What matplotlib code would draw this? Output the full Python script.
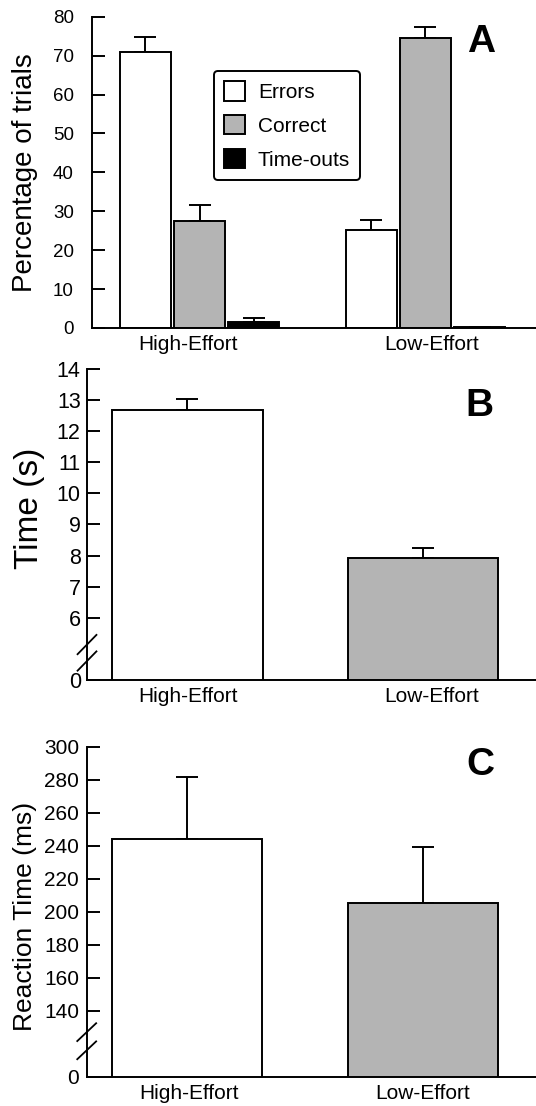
import numpy as np
import matplotlib
matplotlib.use("Agg")
import matplotlib.pyplot as plt
from matplotlib.patches import Patch

plt.rcParams['font.family'] = ['Liberation Sans', 'DejaVu Sans']

# ---- data ----
groups = ['High-Effort', 'Low-Effort']
outcomes = ['Errors', 'Correct', 'Time-outs']
pct_mean = {'Errors': [70.8, 25.2], 'Correct': [27.6, 74.6], 'Time-outs': [1.5, 0.2]}
pct_err = {'Errors': [3.9, 2.5], 'Correct': [4.1, 2.7], 'Time-outs': [1.0, 0.1]}
time_mean = [12.67, 7.91]
time_err = [0.36, 0.34]
rt_mean = [243.9, 205.4]
rt_err = [37.6, 34.1]

white = 'white'
grey = '#b4b4b4'
colors = {'Errors': white, 'Correct': grey, 'Time-outs': 'black'}

W, H = 536, 1106
LW = 1.4


def axes_px(left, top, bottom):
    # place an axes from pixel measures, right edge at figure edge
    return [left / W, 1 - bottom / H, (W - left) / W, (bottom - top) / H]


def style(ax, lsize, pad):
    for s in ['top', 'right']:
        ax.spines[s].set_visible(False)
    for s in ['left', 'bottom']:
        ax.spines[s].set_linewidth(LW)
    ax.tick_params(axis='y', direction='in', length=9.4, width=LW, labelsize=lsize, pad=pad)
    ax.tick_params(axis='x', length=0, labelsize=15, pad=5)


def axis_break(ax, ys, dx=0.02, dy=0.03):
    for y in ys:
        ax.plot([-dx, dx], [y - dy, y + dy], transform=ax.transAxes,
                color='black', lw=1.3, clip_on=False)


fig = plt.figure(figsize=(W / 100, H / 100), dpi=100)

# ---- panel A ----
axA = fig.add_axes(axes_px(92, 16.7, 328))
x = np.arange(len(groups))
bw = 0.2257
step = 0.241
for i, k in enumerate(outcomes):
    pos = x + (i - 1) * step
    axA.bar(pos, pct_mean[k], width=bw, color=colors[k], edgecolor='black', linewidth=LW, zorder=2)
    axA.errorbar(pos, pct_mean[k], yerr=[np.zeros(2), pct_err[k]], fmt='none',
                 ecolor='black', elinewidth=LW, capsize=7.9, capthick=LW, zorder=1)
axA.set_xlim(-0.4757, 1.489)
axA.set_ylim(0, 80)
axA.set_yticks(np.arange(0, 81, 10))
axA.set_xticks([-0.053, 1.027])
axA.set_xticklabels(groups)
style(axA, 13.5, 13)
axA.set_ylabel('Percentage of trials', fontsize=20)
axA.yaxis.set_label_coords(-0.121, 0.5)
axA.text(0.876, 0.919, 'A', transform=axA.transAxes, fontsize=28, fontweight='bold',
         ha='center', va='center')
handles = [Patch(facecolor=colors[k], edgecolor='black', linewidth=LW) for k in outcomes]
leg = axA.legend(handles, outcomes, loc='upper left', bbox_to_anchor=(0.2748, 0.8256),
                 fontsize=15, frameon=True, fancybox=True, handlelength=1.0,
                 handleheight=1.05, handletextpad=0.6, labelspacing=0.62,
                 borderpad=0.5, borderaxespad=0)
leg.get_frame().set_edgecolor('black')
leg.get_frame().set_linewidth(LW)
leg.get_frame().set_alpha(1)

# ---- panel B ----
axB = fig.add_axes(axes_px(87, 369, 680))
xb = np.arange(len(groups))
axB.bar(xb, time_mean, width=0.639, color=[white, grey], edgecolor='black', linewidth=LW, zorder=2)
axB.errorbar(xb, time_mean, yerr=[np.zeros(2), time_err], fmt='none', ecolor='black',
             elinewidth=LW, capsize=7.9, capthick=LW, zorder=1)
axB.set_xlim(-0.4255, 1.479)
axB.set_ylim(4, 14)
axB.set_yticks([4] + list(range(6, 15)))
axB.set_yticklabels(['0'] + [str(v) for v in range(6, 15)])
axB.set_xticks([0.002, 1.037])
axB.set_xticklabels(groups)
style(axB, 15.5, 4.5)
axB.set_ylabel('Time (s)', fontsize=24)
axB.yaxis.set_label_coords(-0.0935, 0.553)
axB.text(0.875, 0.882, 'B', transform=axB.transAxes, fontsize=28, fontweight='bold',
         ha='center', va='center')
axis_break(axB, [0.114, 0.061], dx=0.021, dy=0.031)

# ---- panel C ----
axC = fig.add_axes(axes_px(86.7, 746.7, 1076.7))
axC.bar(xb, rt_mean, width=0.636, color=[white, grey], edgecolor='black', linewidth=LW, zorder=2)
axC.errorbar(xb, rt_mean, yerr=[np.zeros(2), rt_err], fmt='none', ecolor='black',
             elinewidth=LW, capsize=7.9, capthick=LW, zorder=1)
axC.set_xlim(-0.426, 1.48)
axC.set_ylim(100, 300)
axC.set_yticks([100] + list(range(140, 301, 20)))
axC.set_yticklabels(['0'] + [str(v) for v in range(140, 301, 20)])
axC.set_xticks([0.01, 1.0])
axC.set_xticklabels(groups)
style(axC, 15, 5.5)
axC.set_ylabel('Reaction Time (ms)', fontsize=19)
axC.yaxis.set_label_coords(-0.111, 0.487)
axC.text(0.877, 0.9445, 'C', transform=axC.transAxes, fontsize=28, fontweight='bold',
         ha='center', va='center')
axis_break(axC, [0.135, 0.08], dx=0.021, dy=0.027)

fig.savefig('out.png', dpi=100)
